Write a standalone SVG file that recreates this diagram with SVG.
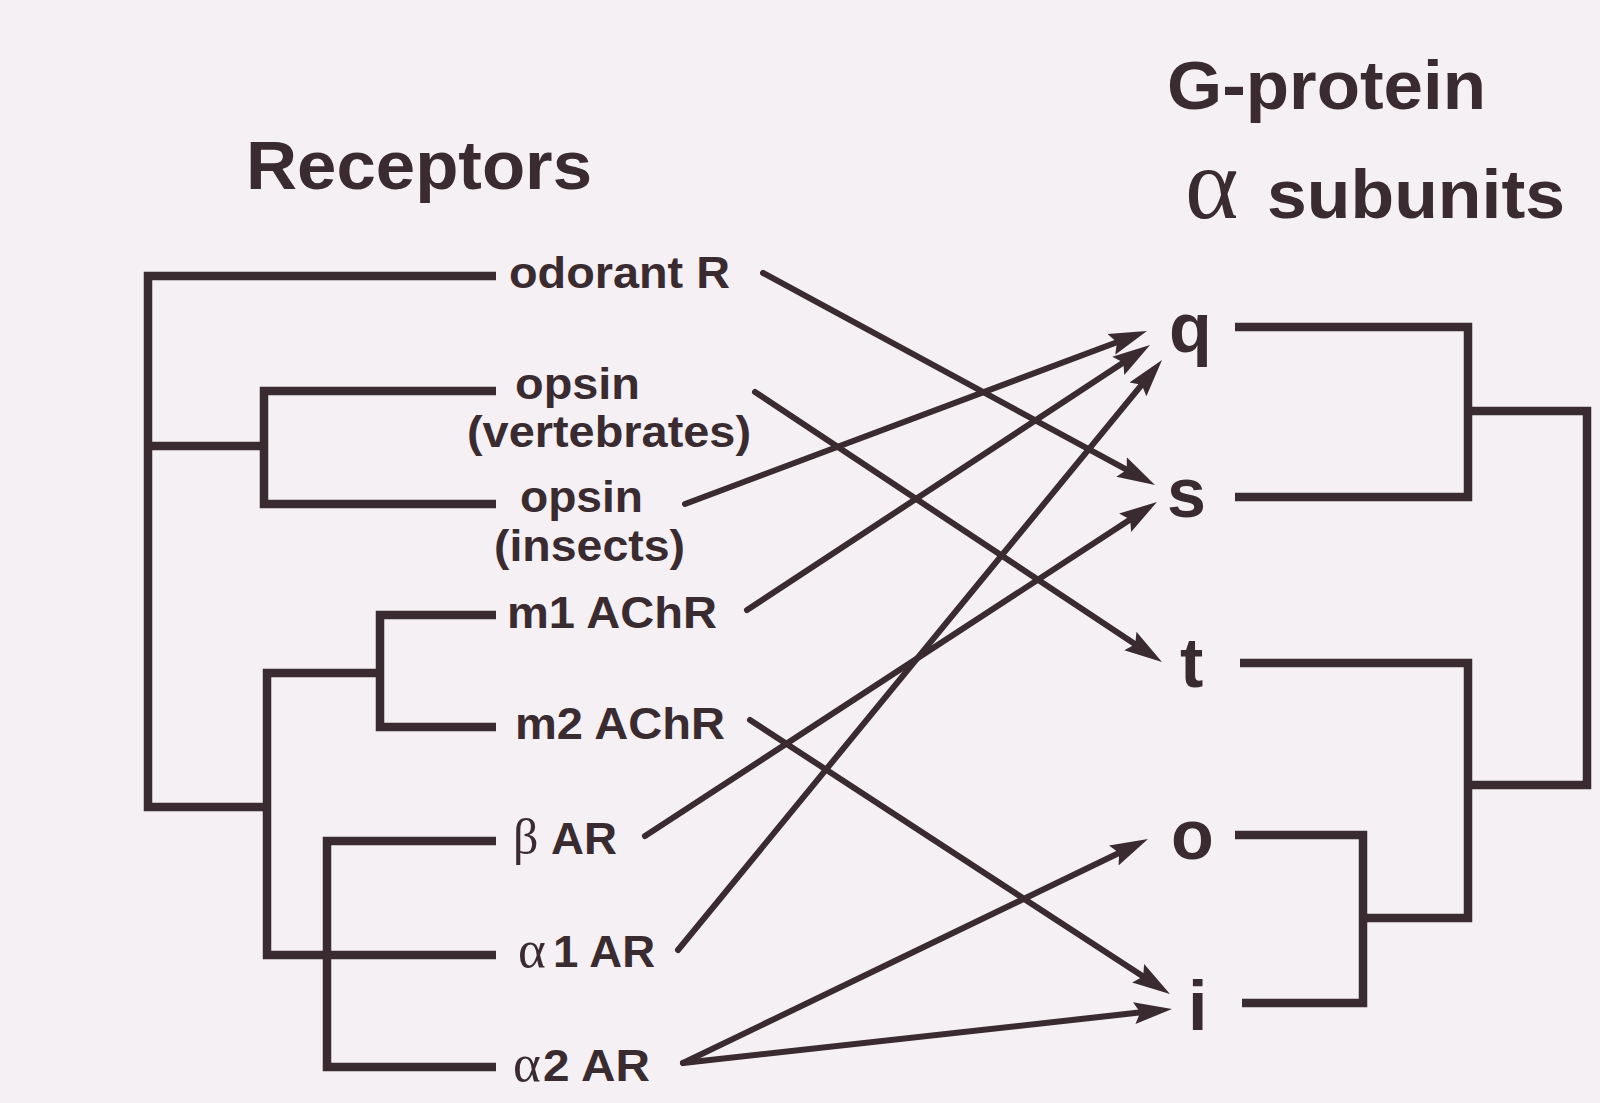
<svg xmlns="http://www.w3.org/2000/svg" width="1600" height="1103" viewBox="0 0 1600 1103">
<defs>
<style>
.bg{fill:#f4f0f3}
.tree{fill:none;stroke:#3a2b30;stroke-width:8.5;stroke-linecap:butt;stroke-linejoin:miter}
.arr{fill:none;stroke:#3a2b30;stroke-width:6;stroke-linecap:round}
.lbl{font-family:"Liberation Sans",Arial,sans-serif;font-weight:bold;font-size:44px;fill:#3a2b30}
.greek{font-family:"Liberation Serif","Times New Roman",serif;font-weight:normal;font-size:53px;fill:#3a2b30}
.title{font-family:"Liberation Sans",Arial,sans-serif;font-weight:bold;font-size:69px;fill:#3a2b30}
.gl{font-family:"Liberation Sans",Arial,sans-serif;font-weight:bold;font-size:70px;fill:#3a2b30}
</style>
<marker id="ah" markerUnits="userSpaceOnUse" markerWidth="38" markerHeight="24" viewBox="0 0 38 24" refX="23" refY="12" orient="auto">
<path d="M0,1 L38,12 L0,23 L6,12 z" fill="#3a2b30"/>
</marker>
</defs>
<rect class="bg" x="0" y="0" width="1600" height="1103"/>

<g id="titles">
<text class="title" x="246" y="189" textLength="346" lengthAdjust="spacingAndGlyphs">Receptors</text>
<text class="title" x="1167" y="109" textLength="319" lengthAdjust="spacingAndGlyphs">G-protein</text>
<text class="greek" x="1185" y="218" style="font-size:102px">α</text>
<text class="title" x="1267" y="218" textLength="298" lengthAdjust="spacingAndGlyphs">subunits</text>
</g>

<g id="receptor-tree">
<path class="tree" d="M496,276 H148 V807 H267"/>
<path class="tree" d="M148,446 H264"/>
<path class="tree" d="M496,391 H264 V504 H496"/>
<path class="tree" d="M380,673 H267 V955 H496"/>
<path class="tree" d="M496,615 H380 V727 H496"/>
<path class="tree" d="M496,841 H327 V1067 H496"/>
</g>

<g id="gprotein-tree">
<path class="tree" d="M1235,327 H1468 V497 H1235"/>
<path class="tree" d="M1468,411 H1587 V785 H1468"/>
<path class="tree" d="M1240,663 H1468 V918 H1363"/>
<path class="tree" d="M1235,835 H1363 V1003 H1242"/>
</g>

<g id="node-odorant"><text class="lbl" x="509" y="288" textLength="221" lengthAdjust="spacingAndGlyphs">odorant R</text></g>
<g id="node-opsin-vert">
<text class="lbl" x="515" y="399" textLength="125" lengthAdjust="spacingAndGlyphs">opsin</text>
<text class="lbl" x="467" y="447" textLength="284" lengthAdjust="spacingAndGlyphs">(vertebrates)</text>
</g>
<g id="node-opsin-ins">
<text class="lbl" x="520" y="512" textLength="123" lengthAdjust="spacingAndGlyphs">opsin</text>
<text class="lbl" x="494" y="561" textLength="191" lengthAdjust="spacingAndGlyphs">(insects)</text>
</g>
<g id="node-m1"><text class="lbl" x="507" y="628" textLength="210" lengthAdjust="spacingAndGlyphs">m1 AChR</text></g>
<g id="node-m2"><text class="lbl" x="515" y="739" textLength="210" lengthAdjust="spacingAndGlyphs">m2 AChR</text></g>
<g id="node-beta">
<text class="greek" x="513" y="854" style="font-size:50px">β</text>
<text class="lbl" x="551" y="854" textLength="66" lengthAdjust="spacingAndGlyphs">AR</text>
</g>
<g id="node-alpha1">
<text class="greek" x="518" y="967">α</text>
<text class="lbl" x="553" y="967" textLength="102" lengthAdjust="spacingAndGlyphs">1 AR</text>
</g>
<g id="node-alpha2">
<text class="greek" x="513" y="1081">α</text>
<text class="lbl" x="543" y="1081" textLength="107" lengthAdjust="spacingAndGlyphs">2 AR</text>
</g>

<g id="node-q"><text class="gl" x="1169" y="352">q</text></g>
<g id="node-s"><text class="gl" x="1167" y="517">s</text></g>
<g id="node-t"><text class="gl" x="1180" y="687">t</text></g>
<g id="node-o"><text class="gl" x="1171" y="859">o</text></g>
<g id="node-i"><text class="gl" x="1188" y="1030">i</text></g>

<g id="connectors">
<line class="arr" x1="763" y1="273" x2="1141.8" y2="477.9" marker-end="url(#ah)"/>
<line class="arr" x1="755" y1="392" x2="1149.5" y2="653.7" marker-end="url(#ah)"/>
<line class="arr" x1="685" y1="504" x2="1132.9" y2="336.3" marker-end="url(#ah)"/>
<line class="arr" x1="747" y1="610" x2="1137.5" y2="353.2" marker-end="url(#ah)"/>
<line class="arr" x1="750" y1="720" x2="1157.4" y2="985.8" marker-end="url(#ah)"/>
<line class="arr" x1="645" y1="836" x2="1144.4" y2="510.2" marker-end="url(#ah)"/>
<line class="arr" x1="678" y1="950" x2="1152.5" y2="371.6" marker-end="url(#ah)"/>
<line class="arr" x1="683" y1="1063" x2="1134.5" y2="845.5" marker-end="url(#ah)"/>
<line class="arr" x1="683" y1="1063" x2="1157.1" y2="1010.6" marker-end="url(#ah)"/>
</g>
</svg>
